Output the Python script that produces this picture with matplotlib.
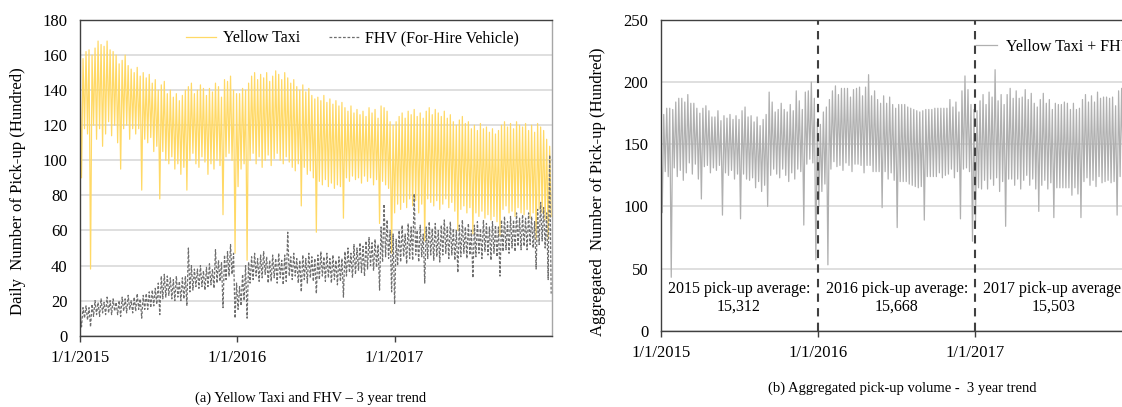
import numpy as np
import pandas as pd
import matplotlib
matplotlib.use('Agg')
import matplotlib.pyplot as plt

plt.rcParams['font.family'] = ['Liberation Serif', 'DejaVu Serif']
plt.rcParams['font.size'] = 11.5

# weekly [weekday peak, weekend/holiday low] daily pick-ups, in hundreds
yellow_2015 = [[152, 90], [158, 118], [162, 115], [163, 38], [160, 120], [164, 112], [168, 118], [166, 108],
               [165, 115], [168, 122], [163, 114], [162, 120], [160, 110], [155, 95], [157, 118], [160, 120],
               [154, 112], [152, 118], [150, 115], [153, 118], [148, 83], [150, 112], [147, 110], [149, 113],
               [144, 105], [146, 108], [140, 78], [143, 105], [145, 100], [138, 98], [140, 102], [136, 95],
               [138, 98], [134, 92], [137, 96], [140, 83], [142, 100], [144, 104], [138, 98], [140, 96],
               [143, 102], [141, 99], [137, 92], [141, 98], [139, 95], [144, 100], [142, 97], [136, 69],
               [146, 102], [145, 104], [148, 100], [140, 47], [138, 85]]
yellow_2016 = [[138, 95], [141, 98], [140, 43], [144, 100], [148, 104], [150, 98], [146, 102], [149, 96],
               [147, 100], [150, 103], [145, 97], [148, 101], [151, 104], [149, 100], [146, 98], [150, 102],
               [147, 99], [144, 96], [146, 94], [142, 98], [140, 74], [143, 96], [139, 92], [141, 94],
               [137, 90], [135, 59], [136, 88], [134, 86], [137, 89], [133, 85], [135, 87], [132, 84],
               [134, 86], [131, 85], [133, 67], [130, 90], [128, 88], [131, 91], [127, 89], [129, 90],
               [126, 87], [128, 91], [125, 88], [130, 90], [127, 86], [129, 89], [124, 64], [131, 88],
               [130, 86], [128, 84], [122, 47], [120, 70]]
yellow_2017 = [[122, 75], [125, 72], [127, 76], [124, 73], [128, 78], [126, 74], [129, 77], [125, 70],
               [127, 75], [124, 54], [128, 78], [130, 76], [126, 74], [129, 77], [127, 72], [125, 75],
               [128, 78], [124, 73], [126, 76], [122, 71], [120, 60], [123, 72], [125, 74], [121, 70],
               [122, 73], [118, 58], [120, 70], [117, 68], [121, 71], [118, 67], [119, 69], [116, 66],
               [118, 68], [115, 65], [117, 57], [120, 72], [122, 74], [119, 70], [121, 71], [118, 68],
               [122, 73], [120, 70], [119, 69], [121, 72], [117, 67], [120, 70], [116, 55], [121, 72],
               [119, 70], [117, 66], [112, 55], [108, 68]]

fhv_2015 = [[13, 5], [16, 10], [17, 9], [16, 5], [18, 11], [20, 12], [19, 11], [21, 13],
            [19, 12], [22, 13], [20, 12], [21, 14], [19, 12], [20, 11], [22, 14], [21, 13],
            [23, 15], [20, 13], [22, 14], [24, 15], [21, 10], [23, 15], [24, 15], [25, 16],
            [26, 17], [27, 18], [30, 12], [34, 21], [35, 22], [34, 23], [33, 21], [32, 20],
            [34, 22], [31, 20], [33, 21], [34, 17], [50, 25], [40, 26], [38, 28], [38, 27],
            [40, 28], [37, 26], [39, 28], [41, 29], [38, 27], [49, 30], [43, 31], [42, 16],
            [46, 32], [48, 34], [52, 35], [47, 10], [30, 15]]
fhv_2016 = [[28, 17], [35, 20], [40, 10], [42, 30], [45, 32], [47, 34], [44, 31], [46, 33],
            [48, 35], [45, 30], [43, 31], [46, 33], [44, 30], [47, 33], [43, 29], [46, 31],
            [59, 34], [45, 32], [47, 34], [44, 30], [43, 25], [46, 32], [44, 30], [47, 33],
            [45, 31], [44, 24], [46, 32], [48, 34], [45, 31], [47, 33], [44, 30], [46, 32],
            [43, 29], [45, 31], [44, 22], [48, 34], [50, 36], [47, 33], [52, 35], [50, 37],
            [53, 36], [51, 34], [54, 38], [56, 40], [53, 37], [55, 39], [52, 26], [62, 42],
            [75, 45], [66, 44], [60, 25], [58, 18]]
fhv_2017 = [[55, 40], [60, 42], [63, 45], [58, 41], [64, 44], [62, 43], [81, 46], [60, 42],
            [63, 45], [58, 30], [62, 44], [65, 46], [61, 43], [64, 45], [60, 42], [63, 46],
            [66, 47], [62, 44], [65, 46], [61, 43], [60, 36], [63, 45], [66, 47], [62, 44],
            [64, 46], [60, 33], [63, 45], [65, 47], [61, 44], [66, 48], [64, 46], [62, 43],
            [65, 47], [63, 45], [62, 34], [66, 48], [68, 49], [65, 47], [68, 50], [66, 48],
            [70, 51], [67, 49], [69, 51], [67, 49], [70, 52], [68, 50], [65, 38], [72, 52],
            [76, 54], [73, 50], [70, 32], [103, 24]]

yellow = np.array(yellow_2015 + yellow_2016 + yellow_2017).ravel()
fhv = np.array(fhv_2015 + fhv_2016 + fhv_2017).ravel()
agg = yellow + fhv   # panel (b): Yellow Taxi + FHV
days = pd.date_range('2015-01-01', '2017-12-31', periods=len(yellow))

year_starts = pd.to_datetime(['2015-01-01', '2016-01-01', '2017-01-01'])
year_labels = ['1/1/2015', '1/1/2016', '1/1/2017']
year_mids = pd.to_datetime(['2015-07-02', '2016-07-02', '2017-07-02'])
avg_labels = ['2015 pick-up average:\n15,312', '2016 pick-up average:\n15,668', '2017 pick-up average:\n15,503']

W, H = 1122, 407
fig = plt.figure(figsize=(W / 100, H / 100), dpi=100)
ax1 = fig.add_axes([80 / W, 1 - 335.7 / H, 471.6 / W, 315.7 / H])
ax2 = fig.add_axes([660.7 / W, 1 - 330.7 / H, 471.9 / W, 310.7 / H])

# (a) yellow taxi vs FHV
ax1.plot(days, yellow, color='#FFD966', lw=0.9, label='Yellow Taxi')
ax1.plot(days, fhv, color='#6E6E6E', lw=0.9, ls=(0, (2.2, 1.4)), label='FHV (For-Hire Vehicle)')
ax1.set_ylim(0, 180)
ax1.set_yticks(np.arange(0, 181, 20))
ax1.legend(ncol=2, loc='center', bbox_to_anchor=(0.578, 0.942), frameon=False,
           handlelength=1.9, handletextpad=0.4, columnspacing=1.8, borderpad=0)

# (b) aggregated
ax2.plot(days, agg, color='#B0B0B0', lw=0.9, label='Yellow Taxi + FHV')
for d in year_starts[1:]:
    ax2.axvline(d, color='#404040', lw=1.5, ls=(0, (4, 3)), zorder=3)
for d, s in zip(year_mids, avg_labels):
    ax2.text(d, 26.5, s, ha='center', va='center', linespacing=1.15, fontsize=11.5)
ax2.set_ylim(0, 250)
ax2.set_yticks(np.arange(0, 251, 50))
ax2.legend(loc='center left', bbox_to_anchor=(976 / W, 1 - 47 / H), bbox_transform=fig.transFigure,
           frameon=False, handlelength=1.3, handletextpad=0.6, borderpad=0, borderaxespad=0)

for ax in (ax1, ax2):
    ax.set_xlim(pd.Timestamp('2015-01-01'), pd.Timestamp('2018-01-01'))
    ax.set_xticks(year_starts)
    ax.set_xticklabels(year_labels)
    ax.yaxis.grid(True, color='#D9D9D9', lw=1.2)
    ax.set_axisbelow(True)
    ax.tick_params(axis='y', length=0, pad=9, labelsize=12)
    ax.tick_params(axis='x', length=4, width=1, color='#404040', pad=6, labelsize=12)
    for sp in ax.spines.values():
        sp.set_color('#404040')
        sp.set_linewidth(1.0)
ax1.spines['right'].set_color('#A6A6A6')

fig.text(18 / W, 1 - 191 / H, 'Daily  Number of Pick-up (Hundred)', rotation=90, ha='center', va='center', fontsize=12)
fig.text(598 / W, 1 - 192 / H, 'Aggregated  Number of Pick-up (Hundred)', rotation=90, ha='center', va='center', fontsize=12)
fig.text(311 / W, 1 - 398 / H, '(a) Yellow Taxi and FHV \u2013 3 year trend', ha='center', va='center', fontsize=10.5)
fig.text(902 / W, 1 - 388 / H, '(b) Aggregated pick-up volume -  3 year trend', ha='center', va='center', fontsize=10.5)

fig.savefig('out.png', dpi=100)
